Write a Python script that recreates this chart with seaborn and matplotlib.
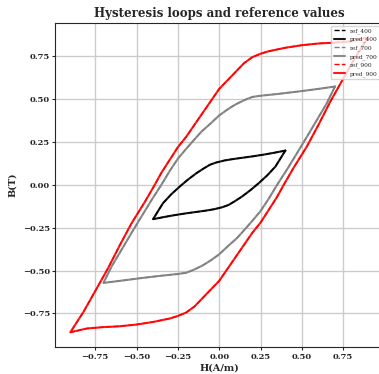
import pandas as pd
import numpy as np
import matplotlib
matplotlib.use("Agg")
import matplotlib.pyplot as plt
import seaborn as sns

# each loop as (H, B) points, upper branch then lower branch
h_400 = [0.40, 0.33, 0.266, 0.20, 0.124, 0.08, 0.03, -0.02, -0.057, -0.095, -0.138, -0.19, -0.239, -0.29, -0.34, -0.40,
         -0.33, -0.266, -0.20, -0.124, -0.08, -0.03, 0.02, 0.057, 0.095, 0.138, 0.19, 0.239, 0.29, 0.34, 0.40]
b_400 = [0.20, 0.187, 0.176, 0.166, 0.156, 0.150, 0.142, 0.130, 0.117, 0.095, 0.068, 0.030, -0.010, -0.055, -0.107, -0.20,
         -0.187, -0.176, -0.166, -0.156, -0.150, -0.142, -0.130, -0.117, -0.095, -0.068, -0.030, 0.010, 0.055, 0.107, 0.20]

h_700 = [0.70, 0.60, 0.48, 0.35, 0.25, 0.20, 0.155, 0.10, 0.05, 0.0, -0.05, -0.108, -0.15, -0.20, -0.249, -0.30,
         -0.35, -0.41, -0.471, -0.53, -0.592, -0.65, -0.70,
         -0.60, -0.48, -0.35, -0.25, -0.20, -0.155, -0.10, -0.05, 0.0, 0.05, 0.108, 0.15, 0.20, 0.249, 0.30,
         0.35, 0.41, 0.471, 0.53, 0.592, 0.65, 0.70]
b_700 = [0.574, 0.560, 0.545, 0.530, 0.520, 0.513, 0.496, 0.470, 0.440, 0.405, 0.360, 0.310, 0.265, 0.210, 0.154, 0.080,
         0.0, -0.090, -0.186, -0.280, -0.381, -0.475, -0.572,
         -0.560, -0.545, -0.530, -0.520, -0.513, -0.496, -0.470, -0.440, -0.405, -0.360, -0.310, -0.265, -0.210, -0.154, -0.080,
         0.0, 0.090, 0.186, 0.280, 0.381, 0.475, 0.574]

h_900 = [0.90, 0.80, 0.70, 0.60, 0.50, 0.40, 0.35, 0.30, 0.25, 0.20, 0.15, 0.10, 0.05, 0.0, -0.05, -0.10, -0.15,
         -0.20, -0.25, -0.30, -0.35, -0.39, -0.45, -0.53, -0.60, -0.673, -0.75, -0.82, -0.90,
         -0.80, -0.70, -0.60, -0.50, -0.40, -0.35, -0.30, -0.25, -0.20, -0.15, -0.10, -0.05, 0.0, 0.05, 0.10, 0.15,
         0.20, 0.25, 0.30, 0.35, 0.39, 0.45, 0.53, 0.60, 0.673, 0.75, 0.82, 0.90]
b_900 = [0.860, 0.838, 0.830, 0.825, 0.815, 0.800, 0.790, 0.780, 0.765, 0.745, 0.710, 0.660, 0.610, 0.560, 0.490, 0.420, 0.350,
         0.280, 0.220, 0.145, 0.070, 0.0, -0.100, -0.224, -0.350, -0.488, -0.620, -0.740, -0.860,
         -0.838, -0.830, -0.825, -0.815, -0.800, -0.790, -0.780, -0.765, -0.745, -0.710, -0.660, -0.610, -0.560, -0.490, -0.420, -0.350,
         -0.280, -0.220, -0.145, -0.070, 0.0, 0.100, 0.224, 0.350, 0.488, 0.620, 0.740, 0.860]

loops = [("400", h_400, b_400, "black"),
         ("700", h_700, b_700, "gray"),
         ("900", h_900, b_900, "red")]

sns.set_style("whitegrid", {"axes.edgecolor": ".15", "grid.color": ".8",
                            "xtick.bottom": True, "ytick.left": True})
plt.rcParams['font.family'] = ['DejaVu Serif']

fig = plt.figure(figsize=(3.79, 3.74), dpi=100)
ax = fig.add_axes([0.1464, 0.0722, 0.864, 0.867])

for name, h, b, color in loops:
    df = pd.DataFrame({"H": h, "B": b})
    sns.lineplot(data=df, x="H", y="B", sort=False, estimator=None, ax=ax,
                 color=color, linestyle="--", linewidth=1.0, label=f"ref_{name}")
    sns.lineplot(data=df, x="H", y="B", sort=False, estimator=None, ax=ax,
                 color=color, linewidth=1.5, alpha=0.9, label=f"pred_{name}")

ax.grid(True, linewidth=1.0)
ax.tick_params(labelsize=6, length=2.5, width=0.8, pad=1.5)
for lab in ax.get_xticklabels() + ax.get_yticklabels():
    lab.set_fontweight("bold")
ax.set_xlabel("H(A/m)", fontsize=7, fontweight="bold", labelpad=2)
ax.set_ylabel("B(T)", fontsize=7, fontweight="bold", labelpad=4)
ax.set_title("Hysteresis loops and reference values", fontsize=8.5, fontweight="bold", pad=4)
ax.legend(loc="upper right", fontsize=4.2, handlelength=2.0, labelspacing=0.5)

fig.savefig("out.png", dpi=100)
